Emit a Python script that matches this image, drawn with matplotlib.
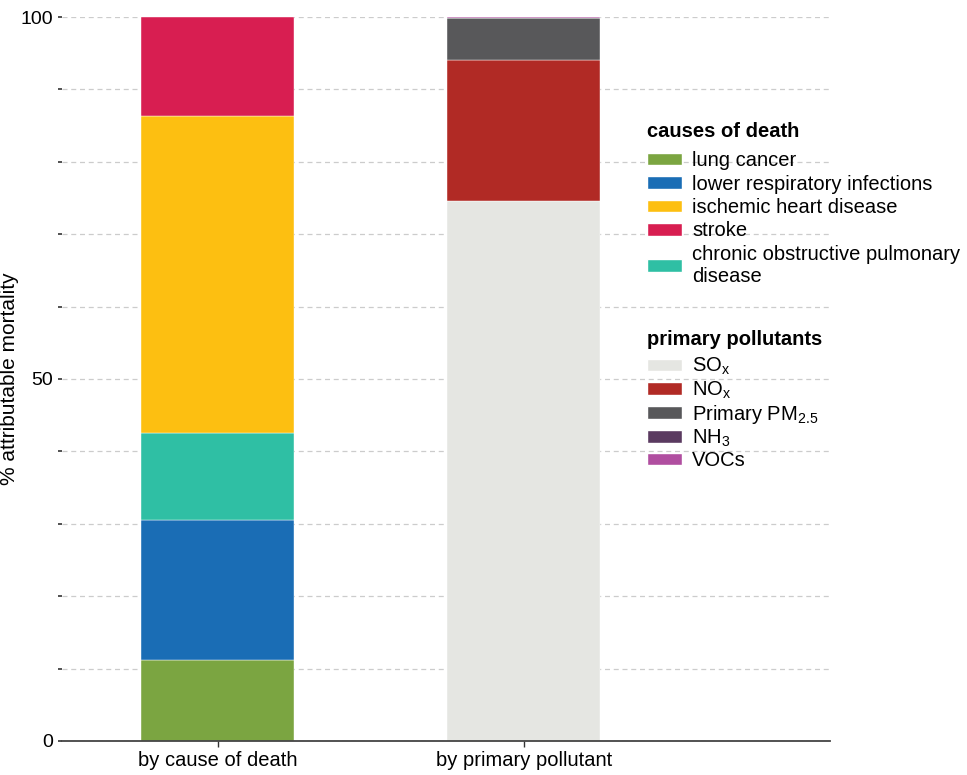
import numpy as np
import matplotlib.pyplot as plt
from matplotlib.patches import Patch

plt.rcParams['font.family'] = ['Liberation Sans', 'DejaVu Sans']
plt.rcParams['mathtext.fontset'] = 'custom'
plt.rcParams['mathtext.rm'] = 'Liberation Sans'

# Data
bars = ['by cause of death', 'by primary pollutant']

cause_names = ['lung cancer', 'lower respiratory infections',
               'chronic obstructive pulmonary\ndisease',
               'ischemic heart disease', 'stroke']
cause_vals = [11.2, 19.3, 12.0, 43.8, 13.7]
cause_colors = ['#7BA541', '#1A6DB5', '#2FBFA4', '#FDBF11', '#D81E51']
cause_legend_order = [0, 1, 3, 4, 2]

poll_names = [r'SO$_\mathregular{x}$', r'NO$_\mathregular{x}$',
              r'Primary PM$_\mathregular{2.5}$', r'NH$_\mathregular{3}$', 'VOCs']
poll_vals = [74.6, 19.5, 5.7, 0.1, 0.1]
poll_colors = ['#E5E6E2', '#B12A25', '#58585A', '#5A3A60', '#B04EA0']

fig = plt.figure(figsize=(9.67, 7.75), dpi=100)
ax = fig.add_axes([0.064, 0.044, 0.794, 0.934])

bottom = 0
for v, c in zip(cause_vals, cause_colors):
    ax.bar(0, v, bottom=bottom, width=0.5, color=c, edgecolor='white', linewidth=0.3, zorder=2)
    bottom += v

bottom = 0
for v, c in zip(poll_vals, poll_colors):
    ax.bar(1, v, bottom=bottom, width=0.5, color=c, edgecolor='white', linewidth=0.3, zorder=2)
    bottom += v

ax.set_xlim(-0.51, 2.0)
ax.set_ylim(0, 100)
ax.set_xticks([0, 1])
ax.set_xticklabels(bars, fontsize=14.5)
ax.set_yticks(np.arange(0, 101, 10))
ax.set_yticklabels(['0', '', '', '', '', '50', '', '', '', '', '100'], fontsize=14)
ax.set_ylabel('% attributable mortality', fontsize=15)
ax.yaxis.set_label_coords(-0.056, 0.5)
ax.yaxis.grid(True, linestyle=(0, (4, 3)), color='#cccccc', linewidth=0.9, zorder=0)
ax.set_axisbelow(True)
for s in ['left', 'right', 'top']:
    ax.spines[s].set_visible(False)
ax.spines['bottom'].set_color('#444444')
ax.spines['bottom'].set_linewidth(1.3)
ax.tick_params(axis='y', length=3, width=1.2, color='#333333')
ax.tick_params(axis='x', length=4, width=1, color='#333333')

common = dict(loc='upper left', frameon=False, fontsize=14.5,
              title_fontproperties={'weight': 'bold', 'size': 14.5},
              handlelength=1.75, handleheight=0.6, handletextpad=0.5,
              borderaxespad=0, borderpad=0)

h1 = [Patch(facecolor=cause_colors[i], edgecolor='white') for i in cause_legend_order]
l1 = [cause_names[i] for i in cause_legend_order]
leg1 = fig.legend(h1, l1, title='causes of death', bbox_to_anchor=(0.669, 0.842),
                  labelspacing=0.22, **common)
leg1._legend_box.align = 'left'
leg1._legend_box.sep = 7

h2 = [Patch(facecolor=c, edgecolor='white') for c in poll_colors]
leg2 = fig.legend(h2, poll_names, title='primary pollutants', bbox_to_anchor=(0.669, 0.574),
                  labelspacing=0.1, **common)
leg2._legend_box.align = 'left'
leg2._legend_box.sep = 5

fig.savefig('out.png', dpi=100)
